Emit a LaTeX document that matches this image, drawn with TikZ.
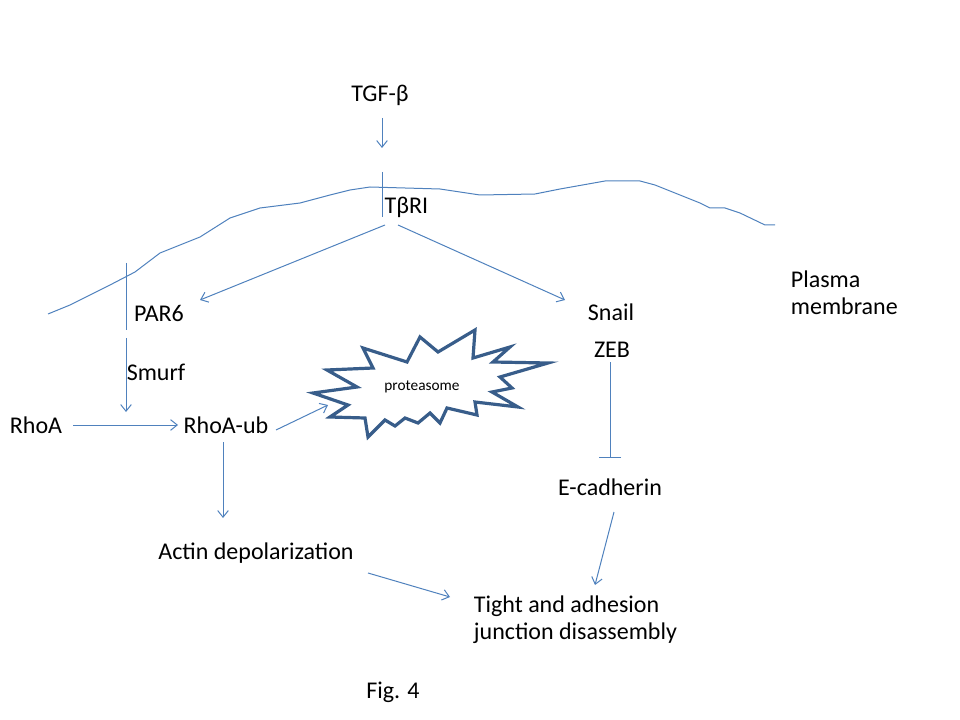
\documentclass[tikz,border=0pt]{standalone}
\usepackage{fontspec}
\setmainfont{Carlito}
\usetikzlibrary{arrows.meta,calc}
\definecolor{linkblue}{HTML}{4F81BD}
\definecolor{starblue}{HTML}{385D8A}
\tikzset{
  txt/.style={font=\fontsize{18}{20}\selectfont, inner sep=2pt},
  arr/.style={draw=linkblue, line width=0.75pt, -{Straight Barb[length=5pt,width=8pt]}},
  inhib/.style={draw=linkblue, line width=0.75pt, -{Bar[width=16.5pt]}},
  recep/.style={draw=linkblue, line width=0.75pt},
}
\begin{document}
\begin{tikzpicture}[x=0.75pt, y=-0.75pt]
\useasboundingbox (0,0) rectangle (960,720);

% plasma membrane
\draw[recep]
    (48,314) -- (70,305) -- (88,296) -- (110,285) -- (135,272) -- (160,253) --
    (200,237) -- (230,218) -- (260,208) -- (300,203) -- (330,195) -- (350,190) --
    (370,187) -- (440,189) -- (480,195) -- (535,194) -- (560,189) -- (605,181) --
    (640,181) -- (655,185) -- (680,195) -- (700,203) -- (710,208) -- (725,208) --
    (740,213) -- (765,225) -- (775,225);

% proteasome
\draw[starblue, line width=2.4pt, line join=miter]
    (313,393) -- (357,387) -- (327,370) -- (373,368) -- (363,348) -- (407,362) --
    (420,337) -- (438,352) -- (475,330) -- (473,358) -- (510,347) -- (493,362) --
    (548,363) -- (500,377) -- (512,388) -- (492,392) -- (518,407) -- (475,402) --
    (477,415) -- (447,408) -- (440,423) -- (430,413) -- (418,423) -- (405,418) --
    (395,426) -- (385,420) -- (368,437) -- (365,418) -- (330,417) -- (348,405) -- cycle;

\node[txt] (tgf) at (380,95) {TGF-β};
\node[txt, anchor=west, inner sep=1pt] (tbri) at (383,207) {TβRI};
\node[txt] (par6) at (159,313) {PAR6};
\node[txt] (smurf) at (156,372) {Smurf};
\node[txt] (rhoa) at (36,425) {RhoA};
\node[txt] (rhoaub) at (226,425) {RhoA-ub};
\node[font=\fontsize{11.5}{13}\selectfont] (prot) at (422,387) {proteasome};
\node[txt] (snail) at (611,312) {Snail};
\node[txt] (zeb) at (612,350) {ZEB};
\node[txt] (ecad) at (610,487) {E-cadherin};
\node[txt] (actin) at (256,553) {Actin depolarization};
\node[txt, anchor=west, align=left] (tight) at (471,620) {Tight and adhesion\\junction disassembly};
\node[txt, anchor=west, align=left] (plasma) at (788,293) {Plasma\\membrane};
\node[txt] (fig) at (393,692) {Fig. 4};

% receptors
\draw[recep] ($(tbri.west)+(-1,-35)$) -- ($(tbri.west)+(-1,10)$);
\draw[recep] ($(par6)+(-33,-50)$) -- ($(par6)+(-33,17)$);

% signalling
\draw[arr] ($(tgf)+(2,23)$) -- ($(tgf)+(2,53)$);
\draw[arr] ($(tbri.west)+(2,18)$) -- ($(par6)+(41,-13)$);
\draw[arr] ($(tbri.west)+(15,18)$) -- ($(snail)+(-46,-12)$);
\draw[arr] ($(par6)+(-33,25)$) -- ($(smurf)+(-30,40)$);
\draw[arr] ($(rhoa)+(37,0)$) -- ($(rhoaub)+(-48,0)$);
\draw[arr] ($(rhoaub)+(50,5)$) -- ($(prot)+(-94,18)$);
\draw[arr] ($(rhoaub)+(-3,17)$) -- ($(actin)+(-33,-35)$);
\draw[inhib] ($(zeb)+(-2,12)$) -- ($(ecad)+(0,-29)$);
\draw[arr] ($(ecad)+(4,25)$) -- ($(tight.west)+(124,-35)$);
\draw[arr] ($(actin)+(112,20)$) -- ($(tight.west)+(-21,-23)$);

\end{tikzpicture}
\end{document}
